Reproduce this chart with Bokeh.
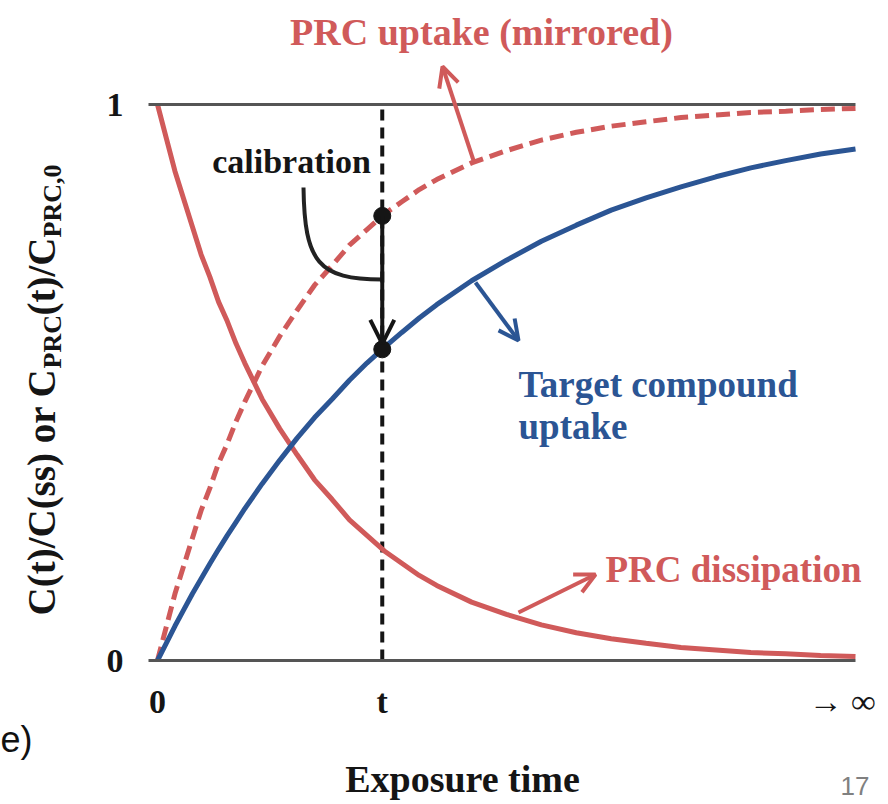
import numpy as np
from bokeh.plotting import figure
from bokeh.models import Label, Arrow, OpenHead, FixedTicker, LinearAxis
from bokeh.embed import file_html
from bokeh.resources import INLINE

# ---------------- data ----------------
time_frac = [0, 0.0125, 0.025, 0.0375, 0.05, 0.0625, 0.075, 0.0875, 0.1, 0.1125,
             0.125, 0.15, 0.175, 0.2, 0.225, 0.25, 0.275, 0.3, 0.325, 0.35, 0.375,
             0.4, 0.45, 0.5, 0.55, 0.6, 0.65, 0.7, 0.75, 0.8, 0.85, 0.9, 0.95, 1.0]
prc_dissipation = [1.0, 0.94, 0.88, 0.83, 0.78, 0.73, 0.69, 0.645, 0.61, 0.57,
                   0.535, 0.47, 0.417, 0.37, 0.325, 0.29, 0.253, 0.225, 0.197, 0.175,
                   0.153, 0.135, 0.105, 0.083, 0.064, 0.05, 0.039, 0.031, 0.0235,
                   0.019, 0.0143, 0.012, 0.009, 0.007]
target_uptake = [0.0, 0.031, 0.062, 0.091, 0.12, 0.147, 0.174, 0.2, 0.225, 0.249,
                 0.273, 0.318, 0.36, 0.40, 0.437, 0.47, 0.504, 0.535, 0.563, 0.59,
                 0.616, 0.64, 0.683, 0.72, 0.754, 0.783, 0.81, 0.832, 0.852, 0.87,
                 0.886, 0.899, 0.911, 0.92]
prc_uptake_mirrored = [1 - v for v in prc_dissipation]
t_point = 0.322
x_tick_positions = [0, t_point, 0.981]
x_tick_labels = ["0", "t", "\u2192 \u221e"]
y_tick_positions = [0, 1]
y_tick_labels = ["0", "1"]

RED = "#d05a5a"
BLUE = "#2b5594"
BLACK = "#151515"
AXIS_GREY = "#555555"
SERIF = "Liberation Serif"

# pixel (image) -> data helpers for annotation placement
def X(px):
    return (px - 157) / 698.0

def Y(py):
    return (660 - py) / 556.0

W, H = 888, 804
p = figure(width=W, height=H, output_backend="svg", toolbar_location=None,
           x_range=(X(0), X(W)), y_range=(Y(H), Y(0)),
           min_border_left=0, min_border_right=0, min_border_top=0,
           min_border_bottom=0)
p.outline_line_color = None
p.grid.visible = False
p.background_fill_color = "white"
p.border_fill_color = "white"

frame_bounds = (X(148), X(855))

# x axis at y = 0
xa = p.xaxis[0]
xa.fixed_location = 0
xa.bounds = frame_bounds
xa.ticker = FixedTicker(ticks=x_tick_positions)
xa.major_label_overrides = {k: v for k, v in zip(x_tick_positions, x_tick_labels)}
xa.axis_line_color = AXIS_GREY
xa.axis_line_width = 3
xa.major_tick_line_color = None
xa.minor_tick_line_color = None
xa.major_label_standoff = 16
xa.major_label_text_font = SERIF
xa.major_label_text_font_style = "bold"
xa.major_label_text_font_size = "34px"
xa.major_label_text_color = BLACK

# y axis at the left edge of the plotting box
ya = p.yaxis[0]
ya.fixed_location = X(148)
ya.bounds = (0, 1)
ya.ticker = FixedTicker(ticks=y_tick_positions)
ya.major_label_overrides = {k: v for k, v in zip(y_tick_positions, y_tick_labels)}
ya.axis_line_color = None
ya.major_tick_line_color = None
ya.minor_tick_line_color = None
ya.major_label_standoff = 19
ya.major_label_text_font = SERIF
ya.major_label_text_font_style = "bold"
ya.major_label_text_font_size = "34px"
ya.major_label_text_color = BLACK

# top line at y = 1
top_axis = LinearAxis(fixed_location=1, bounds=frame_bounds,
                      ticker=FixedTicker(ticks=[]),
                      axis_line_color=AXIS_GREY, axis_line_width=3,
                      major_tick_line_color=None, minor_tick_line_color=None,
                      major_label_text_font_size="0px")
p.add_layout(top_axis, "above")

# vertical dashed line at t
p.segment(x0=[t_point], y0=[0], x1=[t_point], y1=[1], line_color=BLACK,
          line_width=4, line_dash="11 7")

# curves
p.line(time_frac, prc_dissipation, line_color=RED, line_width=5)
p.line(time_frac, prc_uptake_mirrored, line_color=RED, line_width=5, line_dash="14 7")
p.line(time_frac, target_uptake, line_color=BLUE, line_width=5)

# calibration points and arrow
mir_t = float(np.interp(t_point, time_frac, prc_uptake_mirrored))
blue_t = float(np.interp(t_point, time_frac, target_uptake))
p.add_layout(Arrow(x_start=t_point, y_start=mir_t, x_end=t_point, y_end=blue_t + 0.01,
                   line_color=BLACK, line_width=4,
                   end=OpenHead(size=24, line_width=4, line_color=BLACK)))
p.scatter([t_point, t_point], [mir_t, blue_t], size=17, color=BLACK)

# calibration callout curve
p.bezier(x0=[X(303)], y0=[Y(187)], x1=[t_point], y1=[Y(279)],
         cx0=[X(304)], cy0=[Y(262)], cx1=[X(318)], cy1=[Y(279)],
         line_color="#222222", line_width=4)

# callout arrows
p.add_layout(Arrow(x_start=X(473), y_start=Y(160), x_end=X(442), y_end=Y(66),
                   line_color=RED, line_width=4,
                   end=OpenHead(size=20, line_width=4, line_color=RED)))
p.add_layout(Arrow(x_start=X(475), y_start=Y(282), x_end=X(518), y_end=Y(340),
                   line_color=BLUE, line_width=4,
                   end=OpenHead(size=20, line_width=4, line_color=BLUE)))
p.add_layout(Arrow(x_start=X(518), y_start=Y(612), x_end=X(595), y_end=Y(574),
                   line_color=RED, line_width=4,
                   end=OpenHead(size=20, line_width=4, line_color=RED)))

SHIFT = 0.31  # baseline correction, fraction of font size

def lab(text, px, py, color, size, align="left", font=SERIF, style="bold", angle=0.0):
    if angle == 0.0:
        py = py - SHIFT * size
    else:
        px = px - SHIFT * size
    p.add_layout(Label(x=X(px), y=Y(py), text=text, text_color=color,
                       text_font=font, text_font_style=style,
                       text_font_size=f"{size}px", text_align=align,
                       text_baseline="alphabetic", angle=angle))

lab("PRC uptake (mirrored)", 481, 43, RED, 38, align="center")
lab("calibration", 291, 172, BLACK, 34, align="center")
lab("Target compound", 518, 395, BLUE, 37)
lab("uptake", 518, 437, BLUE, 37)
lab("PRC dissipation", 605, 580, RED, 37)
lab("Exposure time", 462, 790, BLACK, 38, align="center")

# rotated y-axis title built from pieces (with subscripts)
ang = np.pi / 2
lab("C(t)/C(ss) or C", 53, 615, BLACK, 39, angle=ang)
lab("PRC", 60, 368, BLACK, 26, angle=ang)
lab("(t)/C", 53, 315, BLACK, 39, angle=ang)
lab("PRC,0", 60, 237, BLACK, 26, angle=ang)

# slide fragments
lab("e)", 0, 750, "#111111", 36, align="left", font="Liberation Sans", style="normal")
lab("17", 840, 794, "#808080", 26, font="Liberation Sans", style="normal")

open("out.html", "w").write(file_html(p, INLINE))
